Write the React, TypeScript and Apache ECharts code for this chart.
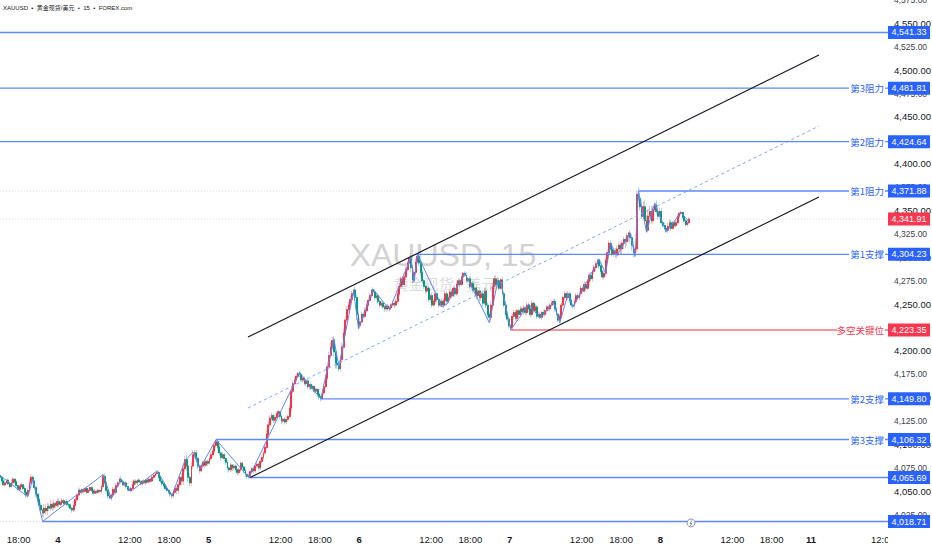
import React, { useEffect, useRef } from "react";
import * as echarts from "echarts";

const closes = [
  4066,4062,4058,4060,4063,4059,4056,4060,4064,4061,
  4057,4053,4056,4058,4054,4050,4047,4052,4060,4066,
  4062,4055,4048,4042,4036,4031,4028,4033,4030,4035,
  4033,4037,4034,4038,4036,4040,4037,4039,4041,4038,
  4040,4037,4036,4033,4031,4036,4042,4047,4052,4050,
  4053,4051,4054,4050,4052,4055,4052,4049,4051,4050,
  4052,4051,4056,4067,4060,4052,4046,4044,4047,4053,
  4050,4057,4060,4064,4061,4058,4060,4056,4053,4052,
  4054,4058,4062,4060,4063,4061,4059,4062,4060,4063,
  4061,4064,4062,4066,4068,4070,4071,4066,4062,4059,
  4057,4054,4052,4050,4048,4046,4050,4054,4052,4058,
  4066,4062,4075,4085,4078,4066,4060,4078,4090,4092,
  4086,4078,4073,4078,4082,4079,4083,4081,4086,4090,
  4094,4100,4104,4098,4092,4087,4090,4086,4082,4076,
  4074,4079,4076,4078,4074,4071,4074,4081,4077,4073,
  4069,4067,4068,4072,4075,4073,4078,4080,4076,4083,
  4087,4092,4098,4112,4122,4129,4132,4127,4130,4134,
  4136,4131,4126,4128,4125,4128,4131,4140,4158,4166,
  4170,4174,4177,4176,4170,4172,4166,4169,4163,4165,
  4161,4163,4158,4160,4155,4152,4150,4156,4163,4172,
  4184,4196,4205,4212,4200,4188,4186,4182,4192,4205,
  4220,4234,4245,4250,4256,4262,4266,4258,4240,4228,
  4232,4240,4238,4244,4250,4255,4260,4266,4264,4258,
  4260,4254,4250,4252,4248,4246,4249,4246,4247,4250,
  4252,4250,4254,4262,4270,4278,4272,4280,4288,4295,
  4300,4290,4277,4285,4296,4302,4295,4285,4276,4270,
  4265,4268,4256,4260,4250,4254,4262,4256,4250,4254,
  4250,4255,4262,4254,4258,4264,4260,4268,4262,4272,
  4276,4272,4280,4284,4282,4276,4278,4270,4273,4266,
  4268,4260,4265,4258,4262,4252,4265,4250,4240,4237,
  4250,4270,4278,4272,4276,4268,4277,4262,4250,4240,
  4235,4228,4226,4238,4242,4236,4244,4240,4246,4243,
  4247,4242,4250,4246,4240,4252,4244,4248,4238,4240,
  4237,4242,4240,4244,4248,4246,4250,4252,4254,4246,
  4240,4234,4238,4250,4258,4262,4258,4262,4255,4250,
  4249,4254,4260,4258,4262,4268,4265,4272,4268,4275,
  4282,4278,4286,4290,4294,4298,4292,4286,4280,4284,
  4298,4306,4316,4310,4304,4308,4304,4310,4314,4310,
  4316,4320,4318,4324,4327,4322,4314,4306,4310,4368,
  4364,4355,4345,4355,4340,4330,4345,4350,4340,4352,
  4357,4350,4345,4350,4338,4335,4332,4330,4334,4338,
  4332,4338,4335,4338,4345,4348,4349,4344,4340,4336,
  4338,4341.91,
];
const upperWicks = [
  2,1,2,3,1,2,1,3,2,1,2,1,2,2,1,3,2,2,4,3,
  2,1,2,1,2,3,2,4,5,4,3,5,3,4,2,4,3,2,3,2,
  1,2,1,2,1,2,3,2,2,3,1,2,1,2,2,1,2,1,2,1,
  2,1,3,2,3,2,2,3,2,3,2,3,2,2,3,2,1,2,1,2,
  2,3,2,2,1,2,2,1,2,1,2,2,1,2,3,2,1,2,1,2,
  1,1,2,1,2,1,3,3,2,4,4,5,4,4,5,3,4,4,5,3,
  3,2,2,3,2,3,2,2,3,3,2,3,2,2,3,2,3,2,1,2,
  2,2,1,2,2,1,2,2,2,1,2,2,2,2,2,1,2,2,1,2,
  3,2,3,4,4,3,3,2,3,2,2,1,2,1,2,2,2,4,4,3,
  3,2,1,2,2,2,2,1,2,1,2,2,1,2,1,1,2,3,3,4,
  5,4,5,4,5,3,4,4,4,5,5,4,4,3,4,3,1,4,3,4,
  4,3,3,4,3,3,3,1,3,3,2,3,2,2,3,2,2,2,2,2,
  3,2,3,3,4,3,3,3,3,2,1,4,3,4,4,1,4,4,3,2,
  2,3,3,2,3,3,3,2,3,2,3,2,3,3,2,3,3,2,3,3,
  3,2,2,1,2,3,2,3,2,3,2,3,2,3,2,3,4,3,3,3,
  4,4,3,4,4,3,2,3,3,4,3,2,2,3,3,3,2,2,3,2,
  3,2,3,3,2,3,2,3,2,3,2,2,3,2,2,2,2,3,2,3,
  2,2,3,3,2,3,2,3,2,2,2,2,3,3,3,3,2,3,3,2,
  3,3,3,3,3,2,2,3,2,3,3,3,3,3,2,3,3,4,3,3,
  3,3,2,3,1,3,4,4,2,4,8,6,7,6,7,6,7,6,6,4,
  3,5,5,4,4,3,3,3,4,3,3,2,3,3,2,2,2,1,2,2,
  3,2,
];
const lowerWicks = [
  2,2,1,2,2,1,2,1,2,2,1,2,2,1,2,2,3,2,2,2,
  3,2,3,3,4,4,5,5,4,4,3,3,4,3,3,2,3,2,2,3,
  2,2,3,2,3,2,1,2,2,2,2,2,1,2,1,2,2,2,1,2,
  1,2,2,3,2,3,3,2,3,2,3,2,2,2,2,1,2,2,2,1,
  2,1,2,2,2,1,2,2,1,2,1,2,2,1,1,2,2,2,2,2,
  2,2,1,2,3,3,2,2,4,4,3,4,4,4,5,5,4,3,3,4,
  4,3,3,2,2,3,2,3,2,2,2,2,2,3,3,3,2,3,3,3,
  3,2,3,2,2,3,2,2,2,3,3,3,2,1,2,3,2,2,3,2,
  2,2,2,2,3,3,3,3,2,2,2,3,3,2,3,2,2,2,3,3,
  2,2,2,3,2,2,2,3,3,3,2,2,3,2,3,3,3,2,2,2,
  2,3,3,3,5,6,4,3,3,3,3,3,3,3,2,2,2,4,6,4,
  3,2,3,2,2,2,2,3,3,3,2,3,3,2,2,3,3,2,3,2,
  2,3,2,2,2,2,3,2,3,2,2,5,4,3,2,2,3,4,3,3,
  3,2,3,3,3,2,2,3,3,2,2,3,2,4,2,2,3,2,3,2,
  2,3,2,3,2,3,2,3,3,3,3,4,3,4,3,4,2,3,4,4,
  3,2,3,3,4,2,2,3,3,3,3,3,3,3,3,3,4,3,3,3,
  3,3,3,3,3,2,3,3,3,2,2,3,2,3,3,2,3,2,2,3,
  2,2,2,2,2,3,3,3,3,3,3,3,3,3,3,3,2,2,3,2,
  3,3,3,3,3,3,3,3,2,3,3,3,2,2,2,3,4,4,8,6,
  6,6,7,5,6,5,6,5,4,4,3,4,3,3,3,3,2,3,3,3,
  3,3,3,3,2,2,2,3,3,3,
  3,2,
];
const pivotBars = [0,17,20,26,63,68,74,80,96,105,113,118,122,132,152,183,196,204,207,216,219,228,238,251,253,255,270,273,284,299,304,306,312,323,330,338,342,347,350,366,370,373,377,385,388,390,395,400,407,416,421];
const pivotPrices = [4068,4045,4064,4018.71,4069,4043,4064,4051,4073,4046,4084,4093,4075,4106.32,4065.69,4178,4149.8,4214,4184,4265,4225,4267,4245,4301,4275,4304.23,4248,4251,4284,4231,4275,4274,4223.35,4251,4236,4253,4231,4262,4248,4299,4284,4316,4303,4327,4302,4371.88,4328,4359,4328,4349,4339];
const levelPrices = [4541.33,4481.81,4424.64,4371.88,4304.23,4223.35,4149.80,4106.32,4065.69,4018.71];
const levelStarts = [0,0,0,390,255,312,196,132,152,26];
const levelNames = ["","第3阻力","第2阻力","第1阻力","第1支撑","多空关键位","第2支撑","第3支撑","",""];
const faintLevels = [[390,4371.88],[26,4018.71]];
const lastPrice = 4341.91;
const channelUpper = [[151.5,4215.8],[500.3,4517.2]];
const channelMiddle = [[151.5,4140],[500.3,4441.3]];
const channelLower = [[152.7,4065.7],[500.3,4365.5]];
const xTickBars = [11.4,35.4,79.4,103.4,127.4,171.4,195.4,219.4,263.4,287.4,311.4,355.4,379.4,403.4,447.4,471.4,495.4,539.4];
const xTickLabels = ["18:00","4","12:00","18:00","5","12:00","18:00","6","12:00","18:00","7","12:00","18:00","8","12:00","18:00","11","12:00"];
const yTicks = [4025,4050,4075,4100,4125,4150,4175,4200,4225,4250,4275,4300,4325,4350,4375,4400,4425,4450,4475,4500,4525,4550,4575];

const BLUE = "#2962ff";
const LINE_BLUE = "#5d88ff";
const RED = "#f7374f";
const X_MAX = 542.5;
const UP = "#f23645";
const DOWN = "#089981";

export default function App() {
  const ref = useRef<HTMLDivElement>(null);
  useEffect(() => {
    const chart = echarts.init(ref.current!, null, { renderer: "svg" });
    let prev = 4068;
    const full: number[][] = [];
    const bodies: number[][] = [];
    closes.forEach((c, i) => {
      const o = prev;
      const hi = Math.max(o, c) + (upperWicks[i] ?? 2);
      const lo = Math.min(o, c) - (lowerWicks[i] ?? 2);
      full.push([i, o, c, lo, hi]);
      bodies.push([i, o, c, Math.min(o, c), Math.max(o, c)]);
      prev = c;
    });
    const seg = (data: number[][], color: string, width: number, type: any = "solid", z = 3, opacity = 1) => ({
      type: "line", data, showSymbol: false, symbol: "none", silent: true, z,
      lineStyle: { color, width, type, opacity },
    });
    const candleStyle = { color: UP, color0: DOWN, borderColor: UP, borderColor0: DOWN, borderWidth: 1 };
    chart.setOption({
      animation: false,
      backgroundColor: "#ffffff",
      grid: { left: 0, right: 44, top: 0, bottom: 20, outerBoundsMode: "none" },
      xAxis: {
        type: "value", min: 0, max: X_MAX, splitLine: { show: false },
        axisLine: { show: false }, axisTick: { show: false },
        axisLabel: {
          customValues: xTickBars, margin: 4, hideOverlap: false, showMinLabel: true, showMaxLabel: true,
          formatter: (v: number) => {
            const l = xTickLabels[xTickBars.indexOf(v)] ?? "";
            return l.includes(":") ? `{t|${l}}` : `{d|${l}}`;
          },
          rich: {
            t: { fontFamily: "Liberation Sans", fontSize: 9.5, color: "#131722", fontWeight: 400 },
            d: { fontFamily: "Liberation Sans", fontSize: 9.5, color: "#131722", fontWeight: 700 },
          },
        },
      },
      yAxis: {
        type: "value", position: "right", min: 4009.65, max: 4576, scale: true, splitLine: { show: false },
        axisLine: { show: false }, axisTick: { show: false },
        axisLabel: {
          customValues: yTicks, margin: 6, hideOverlap: false, showMinLabel: true, showMaxLabel: true,
          formatter: (v: number) => {
            const s = v.toLocaleString("en-US", { minimumFractionDigits: 2, maximumFractionDigits: 2 });
            return v % 50 === 0 ? `{a|${s}}` : `{b|${s}}`;
          },
          rich: {
            a: { fontFamily: "Liberation Sans", fontSize: 9.5, color: "#131722", padding: [0, 0, 2, 0] },
            b: { fontFamily: "Liberation Sans", fontSize: 8.5, color: "#3b3f4a", padding: [0, 0, 2, 0] },
          },
        },
      },
      graphic: [
        { type: "text", x: 3, y: 5, silent: true, z: 20, style: { text: "XAUUSD  •  黄金现货/美元  •  15  •  FOREX.com", fontFamily: "Liberation Sans, Noto Sans CJK SC", fontSize: 6, fill: "#131722" } },
        { type: "text", x: 443, y: 255, silent: true, z: -1, style: { text: "XAUUSD, 15", align: "center", verticalAlign: "middle", fontFamily: "Liberation Sans", fontSize: 32, fill: "#d2d2d2" } },
        { type: "text", x: 445, y: 283, silent: true, z: -1, style: { text: "黄金现货 / 美元", align: "center", verticalAlign: "middle", fontFamily: "Noto Sans CJK SC", fontSize: 15, fill: "#dcdcdc" } },
        { type: "rect", silent: true, z: 20, shape: { x: 888, y: 531, width: 44, height: 19 }, style: { fill: "#ffffff" } },
        { type: "circle", silent: true, z: 20, shape: { cx: 691, cy: 523, r: 4 }, style: { fill: "#ffffff", stroke: "#9a8fb0", lineWidth: 1 } },
        { type: "polyline", silent: true, z: 21, shape: { points: [[692, 520.5], [690, 523.5], [692, 523.5], [690, 526]] }, style: { stroke: "#6f6f9a", lineWidth: 0.8, fill: "none" } },
      ],
      series: [
        seg([[0, lastPrice], [X_MAX, lastPrice]], "#f7a0aa", 1, [1, 2], 1, 0.5),
        ...faintLevels.map(([s, p]) => seg([[0, p], [s, p]], "#c9ccd4", 1, [1, 2], 1, 0.7)),
        { type: "candlestick", data: full, barWidth: 1.4, silent: true, z: 2, itemStyle: { ...candleStyle, opacity: 0.35 } },
        { type: "candlestick", data: bodies, barWidth: 1.4, silent: true, z: 2, itemStyle: candleStyle },
        seg(pivotBars.map((b, i) => [b, pivotPrices[i]]), LINE_BLUE, 1, "solid", 4),
        ...levelPrices.map((p, i) => seg([[levelStarts[i], p], [X_MAX, p]], p === 4223.35 ? "#f7717f" : LINE_BLUE, 1.4, "solid", 4)),
        seg(channelUpper, "#131722", 1.2, "solid", 5),
        seg(channelLower, "#131722", 1.2, "solid", 5),
        seg(channelMiddle, "#7ea2ff", 1, [3, 3], 3),
        {
          type: "custom", z: 30, clip: false, silent: true,
          data: [...levelPrices, lastPrice].map((p, i) => [X_MAX, p, i]),
          renderItem: (_: any, api: any) => {
            const i = api.value(2) as number;
            const price = api.value(1) as number;
            const [x, y] = api.coord([X_MAX, price]);
            const name = levelNames[i] ?? "";
            const isRed = price === 4223.35 || price === lastPrice;
            const fill = isRed ? RED : BLUE;
            const kids: any[] = [
              { type: "rect", shape: { x: x, y: y - 6.5, width: 42, height: 13 }, style: { fill } },
              { type: "text", x: x + 21, y: y, style: { text: price.toLocaleString("en-US", { minimumFractionDigits: 2 }), fill: "#ffffff", align: "center", verticalAlign: "middle", fontFamily: "Liberation Sans", fontSize: 9 } },
            ];
            if (name) {
              const w = name.length === 5 ? 46 : 34;
              kids.push(
                { type: "rect", shape: { x: x - 3 - w - 2, y: y - 6.5, width: w + 2, height: 13 }, style: { fill: "#ffffff" } },
                { type: "text", x: x - 4, y: y, style: { text: name, fill: isRed ? RED : BLUE, align: "right", verticalAlign: "middle", fontFamily: "Noto Sans CJK SC", fontSize: 9.5 } },
              );
            }
            return { type: "group", children: kids };
          },
        },
      ],
    });
    return () => chart.dispose();
  }, []);
  return <div ref={ref} style={{ position: "absolute", left: 0, top: 0, width: 932, height: 550 }} />;
}
